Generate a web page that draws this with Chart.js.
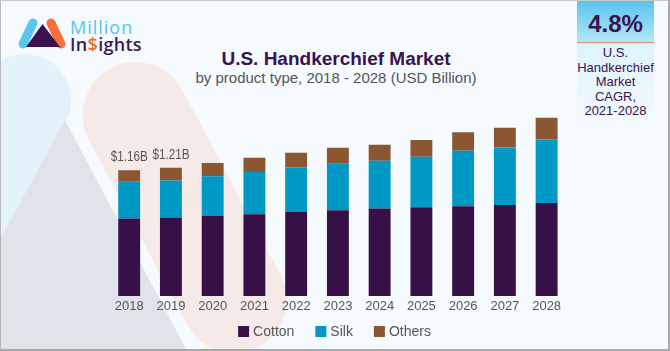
<!DOCTYPE html>
<html>
<head>
<meta charset="utf-8">
<script src="https://cdn.jsdelivr.net/npm/chart.js@4.4.0/dist/chart.umd.min.js"></script>
<style>
  html, body { margin: 0; padding: 0; }
  body { width: 670px; height: 351px; overflow: hidden; }
  #wrap { position: relative; width: 670px; height: 351px; background: #f4fafd; box-sizing: border-box;
          border-top: 1px solid #c8c8c8; border-left: 1px solid #b8b8b8; border-right: 2px solid #a8a8a8; border-bottom: 2px solid #a8a8a8; overflow: hidden; }
  #deco { position: absolute; left: -1px; top: -1px; }
  #c { position: absolute; left: -1px; top: -1px; }
  .t { position: absolute; font-family: 'Liberation Sans', Arial, sans-serif; white-space: nowrap; }
  #title { left: 0; width: 670px; top: 47px; text-align: center; font-size: 19px; font-weight: bold; color: #3a1350; }
  #sub { left: 0; width: 670px; top: 68px; text-align: center; font-size: 15px; color: #555; }
  #cagr { position: absolute; left: 576px; top: -1px; width: 77px; height: 125px;
          background: linear-gradient(#cdeefb 0px, #e2f5fc 60px, #f4fafd 125px); }
  #cagrTop { position: absolute; left: 0; top: 0; width: 77px; height: 43px; background: linear-gradient(#55c4ef, #b5e5f8);
             border-bottom: 1.5px solid #e58c6c; box-sizing: border-box; }
  #pct { left: 0; width: 77px; top: 10px; text-align: center; font-size: 24px; font-weight: bold; color: #3a1350; }
  #cagrTxt { left: 0; width: 77px; top: 46px; text-align: center; font-size: 13px; line-height: 14.5px; color: #3a1350; }
  #logoTxt1 { left: 69px; top: 14px; font-family: 'Open Sans', sans-serif; font-size: 18px; font-weight: 400; color: #5bc2ef; letter-spacing: 1px; }
  #logoTxt2 { left: 69px; top: 31px; font-family: 'Open Sans', sans-serif; font-size: 18px; font-weight: 600; color: #3b1a4e; letter-spacing: 0.3px; }
  #logoTxt2 span { color: #f26a2e; }
</style>
</head>
<body>
<div id="wrap">
  <svg id="deco" width="670" height="351">
    <line x1="25" y1="100" x2="-70" y2="280" stroke="#e3f1fa" stroke-width="92" stroke-linecap="round"/>
    <polygon points="65,120 187,351 0,351 0,240" fill="#dfe3ea"/>
    <line x1="135.6" y1="115" x2="234" y2="300" stroke="#f6eae9" stroke-width="106" stroke-linecap="round"/>
    <line x1="33" y1="23" x2="23" y2="44" stroke="#5bc5f2" stroke-width="9" stroke-linecap="round"/>
    <line x1="51" y1="23" x2="61" y2="44" stroke="#f5703a" stroke-width="9" stroke-linecap="round"/>
    <polygon points="42.5,24 60,47 26,47" fill="#3b1250"/>
  </svg>
  <div class="t" id="logoTxt1">Million</div>
  <div class="t" id="logoTxt2">In<span>$</span>ights</div>
  <div class="t" id="title">U.S. Handkerchief Market</div>
  <div class="t" id="sub">by product type, 2018 - 2028 (USD Billion)</div>
  <div id="cagr">
    <div id="cagrTop"></div>
    <div class="t" id="pct">4.8%</div>
    <div class="t" id="cagrTxt">U.S.<br>Handkerchief<br>Market<br>CAGR,<br>2021-2028</div>
  </div>
  <canvas id="c" width="670" height="351"></canvas>
</div>
<script>
const years = ['2018','2019','2020','2021','2022','2023','2024','2025','2026','2027','2028'];
const cotton = [0.717,0.726,0.742,0.757,0.781,0.794,0.809,0.820,0.831,0.842,0.861];
const silk   = [0.339,0.342,0.366,0.390,0.407,0.430,0.443,0.467,0.513,0.531,0.586];
const others = [0.107,0.119,0.122,0.132,0.137,0.147,0.147,0.156,0.170,0.183,0.201];
const totalLabels = ['$1.16B','$1.21B'];
const seriesNames = ['Cotton','Silk','Others'];
const seriesColors = ['#371047','#0098c5','#8a5732'];

const FONT = "'Liberation Sans', Arial, sans-serif";

const totalsPlugin = {
  id: 'totals',
  afterDatasetsDraw(chart) {
    const ctx = chart.ctx;
    const last = chart.getDatasetMeta(chart.data.datasets.length - 1);
    totalLabels.forEach((lbl, i) => {
      const el = last.data[i];
      ctx.save();
      ctx.font = '15px ' + FONT;
      ctx.fillStyle = '#555';
      ctx.textAlign = 'center';
      ctx.textBaseline = 'middle';
      ctx.translate(el.x, el.y - 13);
      ctx.scale(0.78, 1);
      ctx.fillText(lbl, 0, 0);
      ctx.restore();
    });
  }
};

const legendPlugin = {
  id: 'customLegend',
  afterDraw(chart) {
    const ctx = chart.ctx;
    ctx.save();
    ctx.font = '14px ' + FONT;
    const box = 11, gap = 4, itemGap = 21;
    const ds = chart.data.datasets;
    let total = 0;
    const widths = ds.map(d => ctx.measureText(d.label).width);
    widths.forEach((w, i) => { total += box + gap + w + (i < ds.length - 1 ? itemGap : 0); });
    let x = 334.5 - total / 2;
    const cy = 331.5;
    ctx.textBaseline = 'middle';
    ds.forEach((d, i) => {
      ctx.fillStyle = d.backgroundColor;
      ctx.fillRect(x, cy - box / 2, box, box);
      x += box + gap;
      ctx.fillStyle = '#555';
      ctx.fillText(d.label, x, cy + 0.5);
      x += widths[i] + itemGap;
    });
    ctx.restore();
  }
};

const seriesData = [cotton, silk, others];
new Chart(document.getElementById('c'), {
  type: 'bar',
  data: {
    labels: years,
    datasets: seriesNames.map((n, i) => ({
      label: n,
      data: seriesData[i],
      backgroundColor: seriesColors[i],
      borderWidth: 0,
      categoryPercentage: 0.8,
      barPercentage: 0.656
    }))
  },
  options: {
    responsive: false,
    animation: false,
    devicePixelRatio: 1,
    layout: { padding: { left: 108.3, right: 102.5, top: 101.4, bottom: 35 } },
    plugins: { legend: { display: false }, tooltip: { enabled: false } },
    scales: {
      x: {
        stacked: true,
        grid: { display: false, drawTicks: false },
        border: { display: false },
        ticks: { color: '#555', font: { family: FONT, size: 13 }, padding: 3 },
        afterFit(scale) { scale.height = 20; }
      },
      y: { stacked: true, display: false, min: 0, max: 1.8 }
    }
  },
  plugins: [totalsPlugin, legendPlugin]
});
</script>
</body>
</html>
